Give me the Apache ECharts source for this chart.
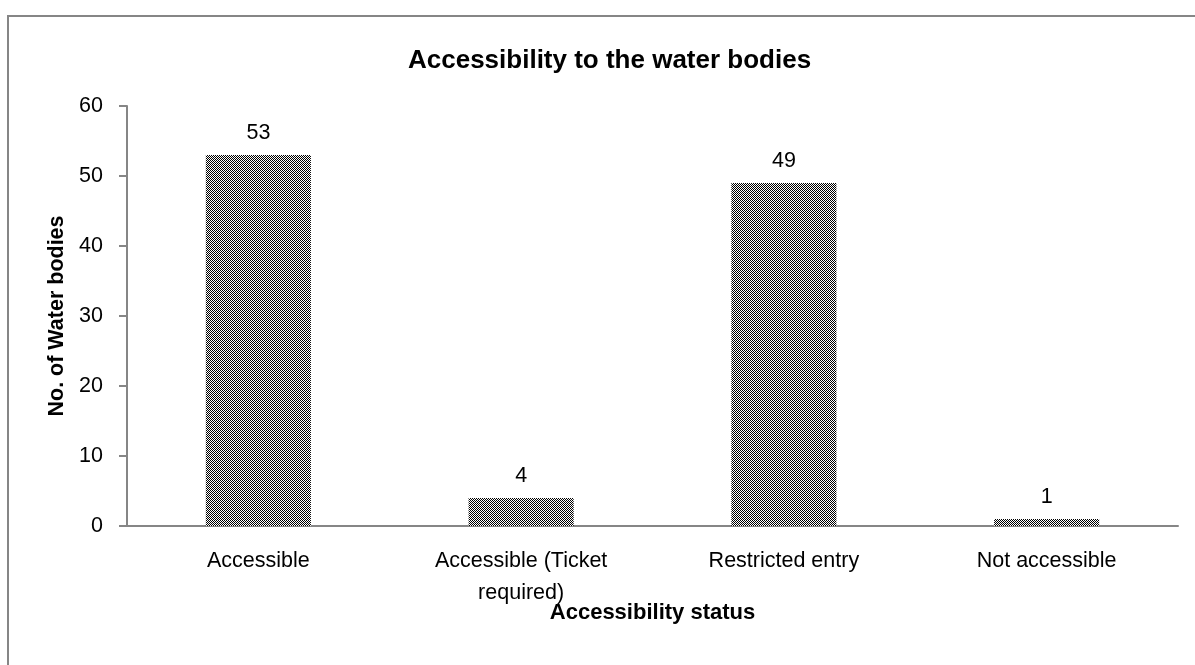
<!DOCTYPE html>
<html><head><meta charset="utf-8">
<script src="https://cdn.jsdelivr.net/npm/echarts@6/dist/echarts.min.js"></script>
<style>html,body{margin:0;padding:0;background:#fff}#c{width:1195px;height:665px}</style>
</head><body><div id="c"></div>
<script>
const categories = ['Accessible', 'Accessible (Ticket\nrequired)', 'Restricted entry', 'Not accessible'];
const values = [53, 4, 49, 1];
const yTicks = [0, 10, 20, 30, 40, 50, 60];

const pc = document.createElement('canvas');
pc.width = 2; pc.height = 2;
const pctx = pc.getContext('2d');
pctx.fillStyle = '#fff'; pctx.fillRect(0,0,2,2);
pctx.fillStyle = '#000'; pctx.fillRect(0,0,1,1); pctx.fillRect(1,1,1,1);

const FONT = '"Liberation Sans", Arial, sans-serif';
const chart = echarts.init(document.getElementById('c'), null, {renderer:'canvas'});
chart.setOption({
  animation: false,
  backgroundColor: '#fff',
  textStyle: {fontFamily: FONT, color: '#000'},
  title: {
    text: 'Accessibility to the water bodies',
    left: 403, top: 43,
    textStyle: {fontFamily: FONT, fontSize: 26, fontWeight: 'bold', color: '#000'}
  },
  graphic: [{
    type: 'rect', shape: {x: 8, y: 16, width: 1300, height: 800},
    style: {fill: 'none', stroke: '#868686', lineWidth: 2}, z: -1
  }],
  grid: {left: 127, right: 17, top: 106, bottom: 139},
  xAxis: {
    type: 'category', data: categories,
    axisLine: {lineStyle: {color: '#868686', width: 2}},
    axisTick: {show: false},
    axisLabel: {color: '#000', fontSize: 21.5, fontFamily: FONT, margin: 19, lineHeight: 32, interval: 0},
    name: 'Accessibility status', nameLocation: 'middle', nameGap: 76, nameMoveOverlap: false,
    nameTextStyle: {color: '#000', fontSize: 22, fontWeight: 'bold', fontFamily: FONT}
  },
  yAxis: {
    type: 'value', min: yTicks[0], max: yTicks[yTicks.length-1], interval: 10,
    splitLine: {show: false},
    axisLine: {show: true, lineStyle: {color: '#868686', width: 2}},
    axisTick: {show: true, length: 8, lineStyle: {color: '#868686', width: 2}},
    axisLabel: {color: '#000', fontSize: 21.5, fontFamily: FONT, margin: 24},
    name: 'No. of Water bodies', nameLocation: 'middle', nameGap: 58, nameRotate: 90,
    nameTextStyle: {color: '#000', fontSize: 21.5, fontWeight: 'bold', fontFamily: FONT}
  },
  series: [{
    type: 'bar', data: values, barWidth: '40%',
    itemStyle: {color: {image: pc, repeat: 'repeat'}},
    label: {show: true, position: 'top', distance: 11, color: '#000', fontSize: 21.5, fontFamily: FONT}
  }]
});
</script></body></html>
